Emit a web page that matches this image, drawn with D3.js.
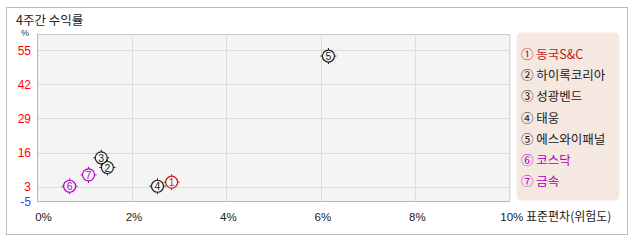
<!DOCTYPE html>
<html><head><meta charset="utf-8">
<script src="https://cdn.jsdelivr.net/npm/d3@7"></script>
<style>body{margin:0;background:#fff;} text{font-family:"Noto Sans CJK KR","Noto Sans",sans-serif;} .num{font-family:"Liberation Sans",Arial,sans-serif;}</style>
</head><body><svg id="c" width="638" height="242"></svg>
<script>
const names = ["동국S&C","하이록코리아","성광벤드","태웅","에스와이패널","코스닥","금속"];
const symbols = ["①","②","③","④","⑤","⑥","⑦"];
const stdev = [2.84,1.48,1.35,2.54,6.16,0.68,1.08];
const returns = [4.7,10.3,14.0,3.15,52.8,3.15,7.5];
const colors = ["#c41818","#222","#222","#222","#222","#b000c0","#b000c0"];
const yTicks = [3,16,29,42,55];
const xTicks = [0,2,4,6,8,10];

const svg = d3.select("#c");
svg.append("rect").attr("x",6.5).attr("y",7.5).attr("width",621).attr("height",227).attr("fill","#fff").attr("stroke","#bbb");
svg.append("text").attr("x",16).attr("y",25).attr("font-size",12.5).attr("fill","#222").text("4주간 수익률");

const L=37.5,R=509.8,T=34,B=201;
const x=d3.scaleLinear().domain([0,10]).range([L,R]);
const y=d3.scaleLinear().domain([-2.47,61.2]).range([B,T]);

svg.append("rect").attr("x",L).attr("y",T).attr("width",R-L).attr("height",B-T).attr("fill","#f4f4f4");
const g=svg.append("g");
g.selectAll(".hg").data(yTicks).join("line").attr("x1",L).attr("x2",R).attr("y1",d=>Math.round(y(d))+0.5).attr("y2",d=>Math.round(y(d))+0.5).attr("stroke","#dcdcdc");
g.selectAll(".vg").data(xTicks.slice(1,-1)).join("line").attr("y1",T+2).attr("y2",B).attr("x1",d=>Math.round(x(d))+0.5).attr("x2",d=>Math.round(x(d))+0.5).attr("stroke","#dcdcdc");
svg.append("path").attr("d",`M${L},${T+0.5}H${R}V${B}`).attr("fill","none").attr("stroke","#c8c8c8");
svg.append("path").attr("d",`M${L},${T}V${B+0.5}H${R}`).attr("fill","none").attr("stroke","#b8b8b8");

svg.selectAll(".yl").data(yTicks).join("text").attr("class","num").attr("x",31).attr("y",d=>y(d)+4.5).attr("text-anchor","end").attr("font-size",12).attr("fill","#f00").text(d=>d);
svg.append("text").attr("class","num").attr("x",31).attr("y",y(y.domain()[0])+5).attr("text-anchor","end").attr("font-size",12).attr("fill","#3344ff").text("-5");
svg.append("text").attr("class","num").attr("x",25).attr("y",36).attr("text-anchor","middle").attr("font-size",9).attr("fill","#333").text("%");

svg.selectAll(".xl").data(xTicks).join("text").attr("class","num").attr("x",d=>d===0?x(d)+6:x(d)+2).attr("y",221).attr("text-anchor","middle").attr("font-size",11.5).attr("fill","#222").text(d=>d+"%");
svg.append("text").attr("x",526).attr("y",221).attr("font-size",12).attr("fill","#222").text("표준편차(위험도)");

const pts=svg.selectAll(".pt").data(d3.range(names.length)).join("g").attr("transform",i=>`translate(${x(stdev[i])},${y(returns[i])})`);
pts.append("circle").attr("r",6).attr("fill","#f8f8f8").attr("stroke",i=>colors[i]).attr("stroke-width",1.2);
pts.append("path").attr("d","M0,-8V-6M0,6V8M-8,0H-6M6,0H8").attr("stroke",i=>colors[i]).attr("stroke-width",1);
pts.append("text").attr("class","num").attr("text-anchor","middle").attr("y",4).attr("font-size",10.5).attr("fill",i=>colors[i]).text(i=>i+1);

svg.append("rect").attr("x",516.5).attr("y",32.5).attr("width",103).attr("height",168).attr("rx",5).attr("fill","#f5e8e1");
svg.selectAll(".lg").data(d3.range(names.length)).join("text").attr("x",521).attr("y",i=>59+i*21.2).attr("font-size",12.5).attr("fill",i=>colors[i]).text(i=>symbols[i]+" "+names[i]);
</script></body></html>
